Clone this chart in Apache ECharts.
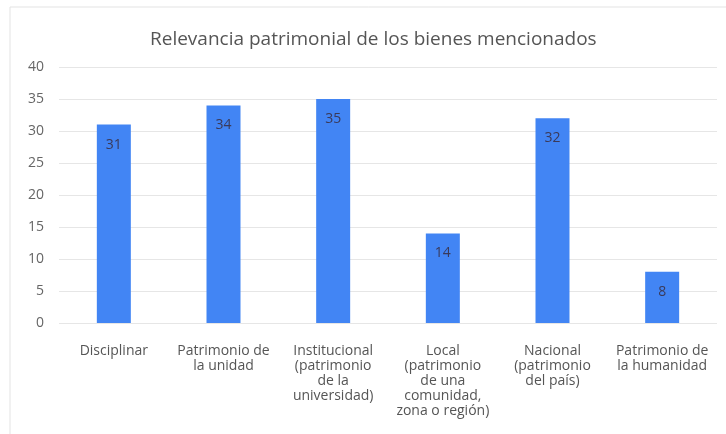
<!DOCTYPE html>
<html><head><meta charset="utf-8">
<script src="https://cdn.jsdelivr.net/npm/echarts@6/dist/echarts.min.js"></script>
<style>html,body{margin:0;padding:0;background:#fff}#c{width:726px;height:434px}</style>
</head><body><div id="c"></div>
<script>
const titleText = 'Relevancia patrimonial de los bienes mencionados';
const categories = ['Disciplinar','Patrimonio de\nla unidad','Institucional\n(patrimonio\nde la\nuniversidad)','Local\n(patrimonio\nde una\ncomunidad,\nzona o región)','Nacional\n(patrimonio\ndel país)','Patrimonio de\nla humanidad'];
const values = [31, 34, 35, 14, 32, 8];
const yTicks = {min: 0, max: 40, interval: 5};
const font = '"Open Sans", "Noto Sans", sans-serif';
const chart = echarts.init(document.getElementById('c'));
chart.setOption({
  animation: false,
  textStyle: {fontFamily: font},
  graphic: [{type:'rect', shape:{x:10, y:7, width:730, height:440}, style:{fill:'none', stroke:'#e3e3e3', lineWidth:1}}],
  title: {text: titleText, left: 145, top: 25, textStyle: {fontSize: 19, fontWeight: 'normal', color: '#555', fontFamily: font}},
  grid: {left: 59, right: 9, top: 67, bottom: 111},
  xAxis: {type: 'category', data: categories,
    axisLine: {show: false}, axisTick: {show: false},
    axisLabel: {color: '#555', fontSize: 14, lineHeight: 15, interval: 0, margin: 21, fontFamily: font}},
  yAxis: {type: 'value', min: yTicks.min, max: yTicks.max, interval: yTicks.interval,
    axisLine: {show: false}, axisTick: {show: false},
    axisLabel: {color: '#666', fontSize: 14, margin: 15, fontFamily: font},
    splitLine: {lineStyle: {color: '#e6e6e6'}}},
  series: [{type: 'bar', data: values, barWidth: 34, itemStyle: {color: '#4285F4'},
    label: {show: true, position: 'insideTop', distance: 13, color: '#3a3a5a', fontSize: 14, fontFamily: font}}]
});
</script></body></html>
